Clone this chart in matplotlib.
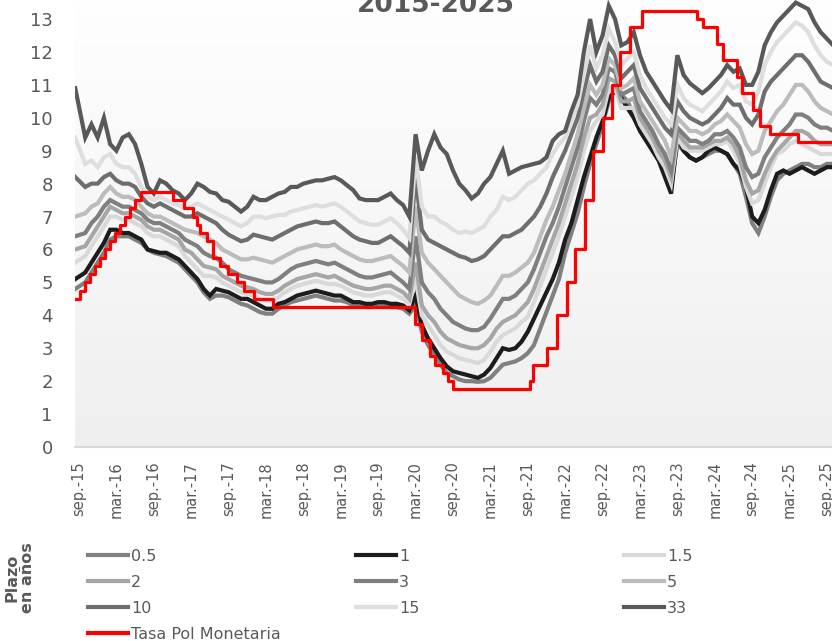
import numpy as np
import matplotlib
matplotlib.use("Agg")
import matplotlib.pyplot as plt
from matplotlib.colors import LinearSegmentedColormap
from matplotlib.lines import Line2D

# ---------------- data (monthly readings, month 0 = sep-15) ----------------
tick_labels = ["sep.-15", "mar.-16", "sep.-16", "mar.-17", "sep.-17", "mar.-18", "sep.-18",
               "mar.-19", "sep.-19", "mar.-20", "sep.-20", "mar.-21", "sep.-21", "mar.-22",
               "sep.-22", "mar.-23", "sep.-23", "mar.-24", "sep.-24", "mar.-25", "sep.-25"]
tick_months = [0, 6, 12, 18, 24, 30, 36, 42, 48, 54, 60, 66, 72, 78, 84, 90, 96, 102, 108, 114, 120]

months = [-0.6] + list(range(1, 123))

y33 = [10.9, 9.4, 9.8, 9.4, 10.0, 9.2, 9.0, 9.4, 9.5, 9.2, 8.6, 7.9,
       7.7, 8.1, 8.0, 7.8, 7.7, 7.5, 7.7, 8.0, 7.9, 7.75, 7.7, 7.5,
       7.45, 7.3, 7.15, 7.3, 7.6, 7.5, 7.5, 7.6, 7.7, 7.75, 7.9, 7.9,
       8.0, 8.05, 8.1, 8.1, 8.15, 8.2, 8.1, 7.95, 7.8, 7.55, 7.5, 7.5,
       7.5, 7.6, 7.7, 7.5, 7.35, 7.0, 9.5, 8.4, 9.0, 9.5, 9.1, 8.9,
       8.4, 8.0, 7.8, 7.55, 7.7, 8.0, 8.2, 8.6, 9.0, 8.3, 8.4, 8.5,
       8.55, 8.6, 8.65, 8.8, 9.3, 9.5, 9.6, 10.2, 10.7, 12.0, 13.0, 12.0,
       12.5, 13.4, 13.0, 12.2, 12.3, 12.6, 11.9, 11.4, 11.1, 10.8, 10.5, 10.25,
       11.9, 11.3, 11.05, 10.9, 10.75, 10.9, 11.1, 11.3, 11.6, 11.4, 11.5, 11.0,
       11.0, 11.4, 12.2, 12.6, 12.9, 13.1, 13.3, 13.5, 13.4, 13.3, 12.9, 12.6,
       12.4, 12.2, 12.1]
y15 = [9.4, 8.6, 8.7, 8.5, 8.8, 8.9, 8.6, 8.5, 8.5, 8.3, 7.9, 7.6,
       7.5, 7.6, 7.5, 7.4, 7.35, 7.25, 7.3, 7.4, 7.3, 7.2, 7.1, 7.0,
       6.9, 6.8, 6.7, 6.8, 7.0, 7.0, 6.95, 7.0, 7.05, 7.05, 7.15, 7.2,
       7.25, 7.3, 7.35, 7.3, 7.35, 7.4, 7.3, 7.15, 7.0, 6.85, 6.8, 6.75,
       6.75, 6.85, 6.95, 6.8, 6.6, 6.35, 8.8, 7.3, 7.0, 7.0, 6.85, 6.75,
       6.6, 6.5, 6.55, 6.5, 6.6, 6.7, 7.0, 7.2, 7.6, 7.5, 7.6, 7.8,
       8.0, 8.1, 8.3, 8.5, 8.9, 9.2, 9.4, 9.9, 10.4, 11.3, 12.2, 11.5,
       11.9, 12.7, 12.3, 11.6, 11.8, 12.0, 11.3, 10.9, 10.6, 10.3, 10.0, 9.8,
       11.0, 10.6, 10.4, 10.3, 10.2, 10.4, 10.6, 10.8, 11.1, 10.9, 11.0, 10.5,
       10.4, 10.8, 11.6, 12.0, 12.3, 12.5, 12.7, 12.9, 12.8, 12.6, 12.2, 11.9,
       11.7, 11.6, 11.5]
y10 = [8.2, 7.9, 8.0, 8.0, 8.2, 8.3, 8.1, 8.0, 8.0, 7.9, 7.6, 7.4,
       7.3, 7.4, 7.3, 7.2, 7.1, 7.0, 7.0, 7.1, 7.0, 6.9, 6.8, 6.6,
       6.45, 6.35, 6.25, 6.3, 6.45, 6.4, 6.35, 6.3, 6.4, 6.5, 6.6, 6.7,
       6.75, 6.8, 6.85, 6.8, 6.8, 6.85, 6.7, 6.55, 6.4, 6.3, 6.25, 6.2,
       6.2, 6.3, 6.4, 6.25, 6.1, 5.9, 8.2, 6.6, 6.3, 6.2, 6.1, 6.0,
       5.9, 5.8, 5.75, 5.65, 5.7, 5.8, 6.0, 6.2, 6.4, 6.4, 6.5, 6.6,
       6.8, 7.0, 7.3, 7.7, 8.2, 8.6, 9.0, 9.5, 10.0, 10.8, 11.6, 11.1,
       11.4, 12.2, 11.9, 11.2, 11.4, 11.6, 10.9, 10.6, 10.3, 10.0, 9.7, 9.5,
       10.5, 10.2, 10.0, 9.9, 9.8, 9.9, 10.1, 10.3, 10.6, 10.4, 10.4, 10.0,
       9.8, 10.1, 10.8, 11.1, 11.3, 11.5, 11.7, 11.9, 11.9, 11.7, 11.4, 11.1,
       11.0, 10.9, 10.8]
y5 = [7.0, 7.1, 7.3, 7.4, 7.7, 7.9, 7.7, 7.6, 7.6, 7.5, 7.3, 7.1,
      7.0, 7.0, 6.9, 6.8, 6.7, 6.6, 6.55, 6.5, 6.4, 6.3, 6.2, 6.0,
      5.9, 5.8, 5.7, 5.7, 5.75, 5.7, 5.65, 5.6, 5.7, 5.8, 5.9, 6.0,
      6.05, 6.1, 6.15, 6.1, 6.1, 6.15, 6.0, 5.9, 5.8, 5.7, 5.65, 5.65,
      5.7, 5.75, 5.8, 5.65, 5.5, 5.3, 7.3, 5.9, 5.6, 5.4, 5.2, 5.0,
      4.8, 4.6, 4.5, 4.4, 4.35, 4.45, 4.6, 4.9, 5.2, 5.2, 5.3, 5.45,
      5.6, 5.9, 6.4, 6.9, 7.3, 7.8, 8.3, 8.9, 9.5, 10.3, 11.0, 10.7,
      11.0, 11.8, 11.6, 10.9, 11.0, 11.2, 10.5, 10.2, 9.9, 9.6, 9.3, 8.8,
      10.0, 9.8, 9.6, 9.6, 9.5, 9.6, 9.8, 9.9, 10.1, 9.9, 9.7, 9.2,
      8.9, 9.0, 9.6, 9.9, 10.2, 10.4, 10.7, 11.0, 11.0, 10.8, 10.5, 10.3,
      10.2, 10.1, 10.0]
y3 = [6.4, 6.5, 6.8, 7.0, 7.3, 7.5, 7.4, 7.3, 7.3, 7.2, 7.1, 6.9,
      6.8, 6.8, 6.7, 6.6, 6.5, 6.3, 6.2, 6.1, 5.9, 5.8, 5.75, 5.6,
      5.4, 5.3, 5.2, 5.15, 5.1, 5.05, 5.0, 5.0, 5.1, 5.25, 5.4, 5.5,
      5.55, 5.6, 5.65, 5.6, 5.55, 5.6, 5.5, 5.4, 5.3, 5.2, 5.15, 5.15,
      5.2, 5.25, 5.3, 5.15, 5.0, 4.8, 6.4, 5.0, 4.7, 4.5, 4.2, 4.0,
      3.8, 3.7, 3.6, 3.55, 3.55, 3.65, 3.9, 4.2, 4.5, 4.5, 4.6, 4.8,
      5.0, 5.4, 5.9, 6.4, 6.8, 7.3, 7.9, 8.5, 9.1, 9.9, 10.6, 10.4,
      10.7, 11.5, 11.4, 10.7, 10.8, 10.9, 10.2, 9.9, 9.6, 9.2, 8.9, 8.4,
      9.7, 9.5, 9.3, 9.3, 9.2, 9.3, 9.5, 9.5, 9.6, 9.4, 9.1, 8.5,
      8.2, 8.3, 8.8, 9.1, 9.4, 9.6, 9.8, 10.1, 10.1, 10.0, 9.8, 9.7,
      9.7, 9.6, 9.6]
y2 = [6.0, 6.1, 6.4, 6.7, 7.0, 7.3, 7.2, 7.1, 7.1, 7.0, 6.9, 6.7,
      6.6, 6.6, 6.5, 6.4, 6.3, 6.0, 5.9, 5.7, 5.5, 5.45, 5.4, 5.2,
      5.1, 5.0, 4.9, 4.85, 4.8, 4.7, 4.65, 4.65, 4.75, 4.9, 5.0, 5.1,
      5.15, 5.2, 5.25, 5.2, 5.15, 5.2, 5.1, 5.0, 4.9, 4.85, 4.8, 4.8,
      4.85, 4.9, 4.9, 4.8, 4.7, 4.5, 5.6, 4.3, 4.0, 3.8, 3.5, 3.3,
      3.2, 3.1, 3.05, 3.0, 3.0, 3.1, 3.3, 3.6, 3.8, 3.9, 4.0, 4.2,
      4.4, 4.8, 5.3, 5.8, 6.3, 6.8, 7.4, 8.0, 8.6, 9.4, 10.0, 10.1,
      10.4, 11.2, 11.1, 10.5, 10.5, 10.6, 10.0, 9.7, 9.4, 9.0, 8.7, 8.2,
      9.6, 9.3, 9.1, 9.1, 9.1, 9.2, 9.3, 9.3, 9.4, 9.2, 8.8, 8.1,
      7.7, 7.8, 8.3, 8.7, 9.0, 9.2, 9.4, 9.6, 9.6, 9.5, 9.3, 9.2,
      9.2, 9.2, 9.1]
y1_5 = [5.6, 5.8, 6.1, 6.4, 6.7, 7.0, 7.0, 6.9, 6.9, 6.8, 6.7, 6.5,
        6.4, 6.4, 6.3, 6.2, 6.1, 5.8, 5.6, 5.4, 5.2, 5.2, 5.15, 5.0,
        4.9, 4.8, 4.7, 4.65, 4.6, 4.5, 4.45, 4.45, 4.55, 4.7, 4.8, 4.9,
        4.95, 5.0, 5.05, 5.0, 4.95, 4.95, 4.9, 4.8, 4.7, 4.65, 4.6, 4.6,
        4.65, 4.7, 4.7, 4.6, 4.5, 4.35, 5.1, 4.0, 3.7, 3.4, 3.1, 2.9,
        2.8, 2.7, 2.65, 2.6, 2.55, 2.65, 2.9, 3.2, 3.4, 3.5, 3.6, 3.8,
        3.95, 4.4, 4.9, 5.4, 5.9, 6.4, 7.0, 7.6, 8.2, 9.0, 9.6, 9.9,
        10.1, 10.9, 10.9, 10.3, 10.3, 10.3, 9.8, 9.5, 9.2, 8.8, 8.5, 8.0,
        9.4, 9.1, 9.0, 9.0, 9.0, 9.1, 9.2, 9.2, 9.3, 9.0, 8.6, 7.9,
        7.4, 7.5, 8.0, 8.5, 8.9, 9.0, 9.2, 9.3, 9.2, 9.1, 9.0, 8.9,
        8.9, 8.9, 8.9]
y1 = [5.1, 5.3, 5.6, 5.9, 6.2, 6.6, 6.6, 6.5, 6.5, 6.4, 6.3, 6.0,
      5.95, 5.9, 5.9, 5.8, 5.7, 5.5, 5.3, 5.1, 4.8, 4.6, 4.8, 4.75,
      4.7, 4.6, 4.5, 4.5, 4.4, 4.3, 4.2, 4.2, 4.35, 4.4, 4.5, 4.6,
      4.65, 4.7, 4.75, 4.7, 4.65, 4.6, 4.6, 4.5, 4.4, 4.4, 4.35, 4.35,
      4.4, 4.4, 4.35, 4.35, 4.3, 4.15, 4.6, 3.7, 3.3, 3.0, 2.7, 2.45,
      2.3, 2.25, 2.2, 2.15, 2.1, 2.2, 2.4, 2.7, 3.0, 2.95, 3.0, 3.2,
      3.5, 3.9, 4.3, 4.7, 5.1, 5.6, 6.3, 6.8, 7.5, 8.2, 8.8, 9.4,
      9.9, 10.6, 10.8, 10.6, 10.3, 10.0, 9.6, 9.3, 9.0, 8.7, 8.2, 7.7,
      9.4, 9.0, 8.8, 8.7, 8.8, 9.0, 9.1, 9.0, 8.9, 8.6, 8.4, 7.9,
      7.0, 6.8, 7.2, 7.8, 8.3, 8.4, 8.3, 8.4, 8.5, 8.4, 8.3, 8.4,
      8.5, 8.5, 8.5]
y0_5 = [4.8, 5.0, 5.3, 5.6, 5.9, 6.3, 6.4, 6.4, 6.4, 6.3, 6.2, 6.0,
        5.9, 5.85, 5.8, 5.7, 5.6, 5.4, 5.2, 5.0, 4.7, 4.5, 4.6, 4.6,
        4.55, 4.45, 4.35, 4.3, 4.2, 4.1, 4.05, 4.05, 4.2, 4.3, 4.4, 4.45,
        4.5, 4.55, 4.6, 4.55, 4.5, 4.45, 4.45, 4.4, 4.3, 4.3, 4.25, 4.25,
        4.3, 4.3, 4.25, 4.25, 4.2, 4.05, 4.3, 3.5, 3.1, 2.8, 2.5, 2.25,
        2.15, 2.05, 2.0, 2.0, 1.98, 2.0, 2.1, 2.3, 2.5, 2.55, 2.6, 2.7,
        2.85, 3.1, 3.6, 4.1, 4.6, 5.1, 5.9, 6.5, 7.1, 7.9, 8.6, 9.2,
        9.8, 10.5, 10.9, 10.7, 10.5, 10.1, 9.7, 9.4, 9.1, 8.8, 8.4, 7.9,
        9.2, 9.0, 8.8, 8.7, 8.8, 8.9, 9.0, 9.0, 8.9, 8.6, 8.3, 7.6,
        6.8, 6.5, 7.0, 7.6, 8.1, 8.3, 8.4, 8.5, 8.6, 8.6, 8.5, 8.5,
        8.6, 8.6, 8.6]

# policy rate: change points (month) and level from that point on
tpm_months = [-0.64, 0.2, 1.0, 1.8, 2.6, 3.4, 4.2, 5.0, 5.8, 6.6, 7.4, 8.2, 9.0, 9.9,
              15.1, 16.9, 18.3, 18.9, 19.4, 20.6, 21.5, 22.6, 23.9, 25.4, 26.4, 28.0, 31.1,
              53.9, 55.0, 56.3, 57.1, 58.4, 59.2, 60.0,
              72.4, 72.8, 75.1, 76.7, 78.3, 79.6, 81.2, 82.5, 84.1, 85.5, 86.8, 88.4, 90.3,
              99.1, 100.1, 102.4, 103.3, 105.6, 106.4, 108.1, 109.3, 110.9, 115.4, 124.0]
tpm_rate = [4.5, 4.75, 5.0, 5.25, 5.5, 5.75, 6.0, 6.25, 6.5, 6.75, 7.0, 7.25, 7.5, 7.75,
            7.5, 7.25, 7.0, 6.75, 6.5, 6.25, 5.75, 5.5, 5.25, 5.0, 4.75, 4.5, 4.25,
            3.75, 3.25, 2.75, 2.5, 2.25, 2.0, 1.75,
            2.0, 2.5, 3.0, 4.0, 5.0, 6.0, 7.5, 9.0, 10.0, 11.0, 12.0, 12.75, 13.25,
            13.0, 12.75, 12.25, 11.75, 11.25, 10.75, 10.25, 9.75, 9.5, 9.25, 9.25]

series = [("0.5", y0_5, "#808080"), ("1", y1, "#1c1c1c"), ("1.5", y1_5, "#d9d9d9"),
          ("2", y2, "#a6a6a6"), ("3", y3, "#7f7f7f"), ("5", y5, "#bcbcbc"),
          ("10", y10, "#6e6e6e"), ("15", y15, "#dedede"), ("33", y33, "#595959")]

# ---------------- figure ----------------
W, H = 832, 641
fig = plt.figure(figsize=(W / 100, H / 100), dpi=100)
fig.patch.set_facecolor("white")

px_per_month = 6.233
px_per_unit = 32.92
x0, x1 = -0.64, 123.4
y0, y1_ = 0, 14
left_px, bottom_px = 75, 447
ax = fig.add_axes([left_px / W, (H - bottom_px) / H,
                   (x1 - x0) * px_per_month / W, (y1_ - y0) * px_per_unit / H])
ax.set_xlim(x0, x1)
ax.set_ylim(y0, y1_)

grad = LinearSegmentedColormap.from_list("g", ["#efefef", "#ffffff"])
ax.imshow(np.linspace(0, 1, 256).reshape(-1, 1), extent=[x0, x1, y0, y1_], origin="lower",
          aspect="auto", cmap=grad, zorder=0)

handles = {}
for name, vals, col in series:
    ln, = ax.plot(months, vals, color=col, lw=3.0, solid_joinstyle="miter", zorder=2)
    handles[name] = ln
red, = ax.step(tpm_months, tpm_rate, where="post", color="#ff0000", lw=2.3, zorder=3)
handles["Tasa Pol Monetaria"] = red

for s in ["left", "right", "top"]:
    ax.spines[s].set_visible(False)
ax.spines["bottom"].set_color("#d9d9d9")
ax.spines["bottom"].set_linewidth(1.5)
ax.spines["bottom"].set_zorder(1)

ax.set_yticks(range(0, 14))
ax.set_yticklabels([str(v) for v in range(0, 14)])
ax.tick_params(axis="y", length=0, pad=16, labelsize=13, labelcolor="#595959")
ax.set_xticks(tick_months)
ax.set_xticklabels(tick_labels, rotation=90)
ax.tick_params(axis="x", length=0, pad=10, labelsize=10.5, labelcolor="#595959")

fig.text(436 / W, 1 - 12 / H, "2015-2025", ha="center", va="baseline",
         fontsize=19, fontweight="bold", color="#595959")

fig.text(20 / W, 1 - 578 / H, "Plazo\nen años", rotation=90, ha="center", va="center",
         multialignment="center", fontsize=11.5, fontweight="bold", color="#595959",
         linespacing=1.0)

cols = [(["0.5", "2", "10", "Tasa Pol Monetaria"], 88),
        (["1", "3", "15"], 356),
        (["1.5", "5", "33"], 624)]
for names, xpx in cols:
    hs = [Line2D([], [], color=handles[n].get_color(), lw=3.0) for n in names]
    leg = fig.legend(hs, names, loc="upper left", bbox_to_anchor=(xpx / W, 1 - 549 / H),
                     bbox_transform=fig.transFigure, frameon=False, borderpad=0,
                     borderaxespad=0, handlelength=2.5, handletextpad=0.19,
                     labelspacing=0.68, fontsize=11.5, labelcolor="#595959")

fig.savefig("out.png", dpi=100)
